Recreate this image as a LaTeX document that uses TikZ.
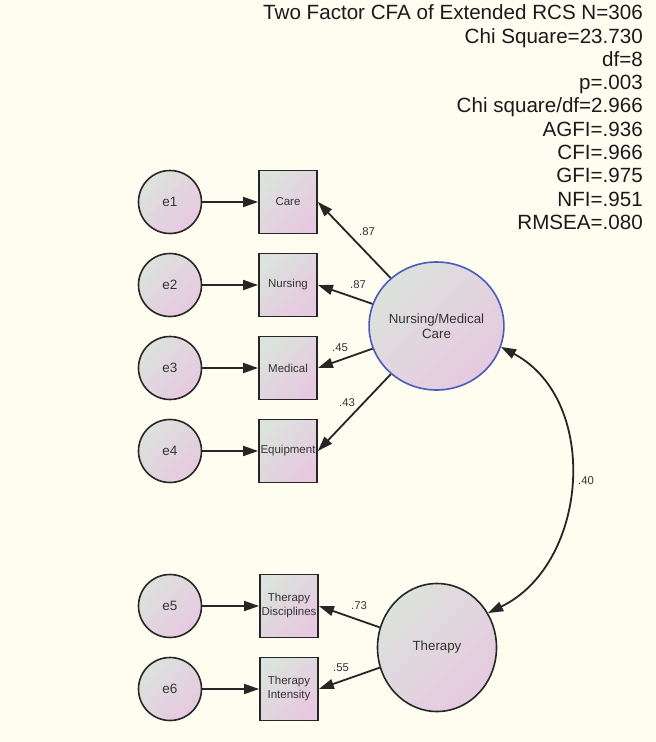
\documentclass[tikz,border=0pt]{standalone}
\usepackage{fontspec}
\setmainfont{Liberation Sans}
\usetikzlibrary{shapes.geometric,arrows.meta}
\definecolor{bg}{HTML}{FFFDEF}
\definecolor{fa}{HTML}{DCE2DC}
\definecolor{fb}{HTML}{E6C9E0}
\definecolor{ln}{HTML}{262626}
\definecolor{tx}{HTML}{333333}
\definecolor{hd}{HTML}{1A1A1A}
\definecolor{blueln}{HTML}{4A5BC0}
\begin{document}
\begin{tikzpicture}[x=1pt,y=-1pt,
  grad/.style={top color=fa, bottom color=fb, shading angle=45},
  errc/.style={circle, draw=ln, line width=1.6pt, grad, minimum size=63pt, inner sep=0pt, font=\fontsize{13.5}{15}\selectfont, text=tx},
  obs/.style={rectangle, draw=ln, line width=1.8pt, grad, minimum width=58pt, minimum height=63pt, inner sep=0pt, align=center, font=\fontsize{11.5}{14}\selectfont, text=tx},
  lat/.style={ellipse, draw=ln, line width=1.6pt, grad, minimum width=119pt, minimum height=128pt, inner sep=0pt, align=center, font=\fontsize{13.3}{15}\selectfont, text=tx},
  arr/.style={draw=ln, line width=1.8pt, -{Triangle[length=15pt,width=10pt]}},
  coef/.style={font=\fontsize{11.3}{13}\selectfont, text=tx, inner sep=0pt},
  hdr/.style={anchor=base east, font=\fontsize{20.6}{23}\selectfont, text=hd, inner sep=0pt}
]
\fill[bg] (0,0) rectangle (656,742);
\useasboundingbox (0,0) rectangle (656,742);

% header
\node[hdr] (h1) at (643,19.7) {Two Factor CFA of Extended RCS N=306};
\node[hdr] (h2) at (643,43.0) {Chi Square=23.730};
\node[hdr] (h3) at (643,66.3) {df=8};
\node[hdr] (h4) at (643,89.6) {p=.003};
\node[hdr] (h5) at (643,112.9) {Chi square/df=2.966};
\node[hdr] (h6) at (643,136.2) {AGFI=.936};
\node[hdr] (h7) at (643,159.5) {CFI=.966};
\node[hdr] (h8) at (643,182.8) {GFI=.975};
\node[hdr] (h9) at (643,206.1) {NFI=.951};
\node[hdr] (h10) at (643,229.4) {RMSEA=.080};

% error terms
\node[errc] (e1) at (170,202) {e1};
\node[errc] (e2) at (170,285) {e2};
\node[errc] (e3) at (170,368) {e3};
\node[errc] (e4) at (170,451) {e4};
\node[errc] (e5) at (170,606) {e5};
\node[errc] (e6) at (170,689) {e6};

% observed
\node[obs] (care) at (288,202) {Care};
\node[obs] (nurs) at (288,285) {Nursing};
\node[obs] (med) at (288,368) {Medical};
\node[obs] (equ) at (288,451) {Equipment};
\node[obs] (td) at (289,606) {Therapy\\Disciplines};
\node[obs] (ti) at (289,689) {Therapy\\Intensity};

% latent
\node[lat, draw=blueln] (nmc) at (436.5,326) {Nursing/Medical\\Care};
\node[lat] (ther) at (437,647.5) {Therapy};

% error arrows
\draw[arr] (e1) -- (care);
\draw[arr] (e2) -- (nurs);
\draw[arr] (e3) -- (med);
\draw[arr] (e4) -- (equ);
\draw[arr] (e5) -- (td);
\draw[arr] (e6) -- (ti);

% loadings
\draw[arr] (nmc) -- (care.east);
\draw[arr] (nmc) -- (nurs.east);
\draw[arr] (nmc) -- (med.east);
\draw[arr] (nmc) -- (equ.east);
\draw[arr] (ther) -- (td.east);
\draw[arr] (ther) -- (ti.east);

% covariance
\draw[draw=ln, line width=1.8pt, {Triangle[length=15pt,width=10pt]}-{Triangle[length=15pt,width=10pt]}]
  (nmc.-18) to[out=-28,in=26,looseness=1.08] (ther.34);

% coefficients
\node[coef] (c1) at (367,232) {.87};
\node[coef] (c2) at (358,285) {.87};
\node[coef] (c3) at (340,348) {.45};
\node[coef] (c4) at (347,403) {.43};
\node[coef] (c5) at (359,606) {.73};
\node[coef] (c6) at (341,668) {.55};
\node[coef] (c7) at (586,481) {.40};
\end{tikzpicture}
\end{document}
